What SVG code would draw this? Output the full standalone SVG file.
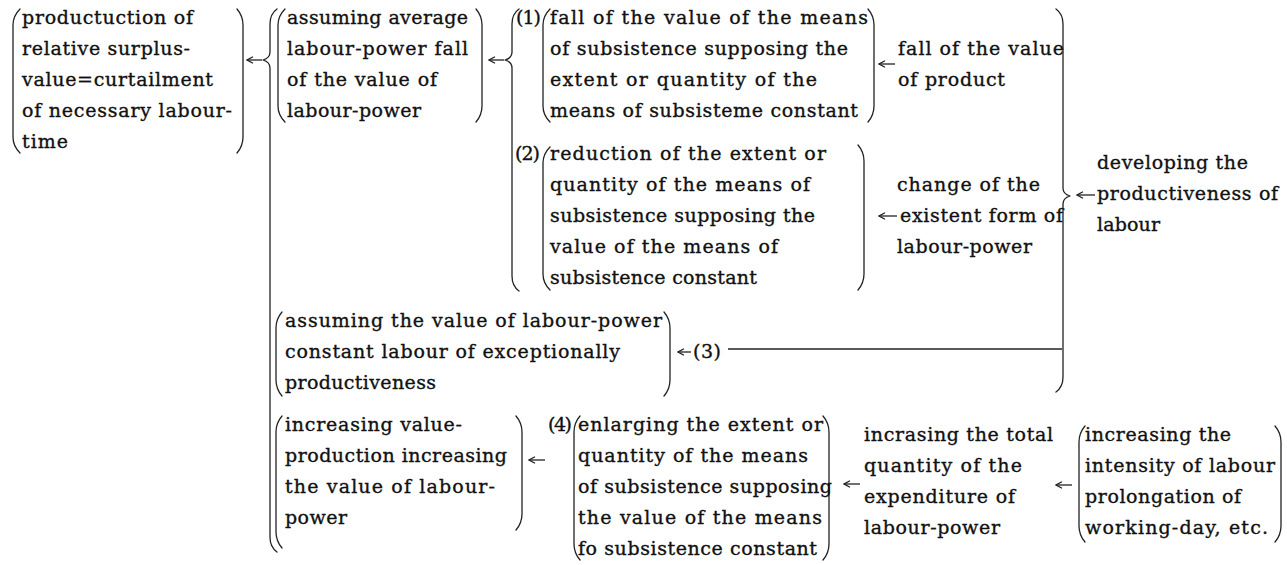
<svg xmlns="http://www.w3.org/2000/svg" width="1287" height="565" viewBox="0 0 1287 565">
<defs>
<style>
.t{font-family:"DejaVu Serif","Liberation Serif",serif;font-size:19px;fill:#111;stroke:#111;stroke-width:0.35;}
.b{fill:none;stroke:#222;stroke-width:1.3;stroke-linecap:round;stroke-linejoin:round;}
.a{fill:none;stroke:#222;stroke-width:1.3;}
</style>
<marker id="ah" viewBox="0 0 10 10" refX="9" refY="5" markerWidth="10" markerHeight="10" markerUnits="userSpaceOnUse" orient="auto">
<path d="M3,1.8 L9,5 L3,8.2" fill="none" stroke="#222" stroke-width="1.3"/>
</marker>
</defs>
<rect width="1287" height="565" fill="#fff"/>

<g id="n1">
<path class="b" d="M20,9 Q13,16 13,25 L13,137 Q13,146 20,153"/>
<path class="b" d="M237,9 Q243,16 243,25 L243,137 Q243,146 237,153"/>
<text class="t" x="22" y="24" textLength="171">productuction of</text>
<text class="t" x="22" y="55" textLength="168">relative surplus-</text>
<text class="t" x="22" y="86" textLength="191">value=curtailment</text>
<text class="t" x="22" y="117" textLength="210">of necessary labour-</text>
<text class="t" x="22" y="148" textLength="46">time</text>
</g>

<g id="n2">
<path class="b" d="M285,9 Q278,16 278,25 L278,106 Q278,115 285,122"/>
<path class="b" d="M476,9 Q482,16 482,25 L482,106 Q482,115 476,122"/>
<text class="t" x="287" y="24" textLength="181">assuming average</text>
<text class="t" x="287" y="55" textLength="181">labour-power fall</text>
<text class="t" x="287" y="86" textLength="150">of the value of</text>
<text class="t" x="287" y="117" textLength="134">labour-power</text>
</g>

<g id="n3">
<text class="t" x="516" y="24" textLength="25">(1)</text>
<path class="b" d="M550,9 Q543,16 543,25 L543,106 Q543,115 550,122"/>
<path class="b" d="M868,9 Q874,16 874,25 L874,106 Q874,115 868,122"/>
<text class="t" x="550" y="24" textLength="318">fall of the value of the means</text>
<text class="t" x="550" y="55" textLength="298">of subsistence supposing the</text>
<text class="t" x="550" y="86" textLength="267">extent or quantity of the</text>
<text class="t" x="550" y="117" textLength="308">means of subsisteme constant</text>
</g>

<g id="n4">
<text class="t" x="898" y="55" textLength="166">fall of the value</text>
<text class="t" x="898" y="86" textLength="107">of product</text>
</g>

<g id="n5">
<text class="t" x="515" y="160" textLength="25">(2)</text>
<path class="b" d="M550,147 Q543,154 543,163 L543,274 Q543,283 550,290"/>
<path class="b" d="M858,145 Q864,152 864,161 L864,274 Q864,283 858,290"/>
<text class="t" x="550" y="160" textLength="276">reduction of the extent or</text>
<text class="t" x="550" y="191" textLength="260">quantity of the means of</text>
<text class="t" x="550" y="222" textLength="265">subsistence supposing the</text>
<text class="t" x="550" y="253" textLength="228">value of the means of</text>
<text class="t" x="550" y="284" textLength="207">subsistence constant</text>
</g>

<g id="n6">
<text class="t" x="897" y="191" textLength="143">change of the</text>
<text class="t" x="900" y="222" textLength="163">existent form of</text>
<text class="t" x="897" y="253" textLength="135">labour-power</text>
</g>

<g id="n7">
<text class="t" x="1097" y="169" textLength="151">developing the</text>
<text class="t" x="1097" y="200" textLength="181">productiveness of</text>
<text class="t" x="1097" y="231" textLength="63">labour</text>
</g>

<g id="n8">
<path class="b" d="M282,312 Q276,319 276,328 L276,380 Q276,389 282,396"/>
<path class="b" d="M664,312 Q670,319 670,328 L670,380 Q670,389 664,396"/>
<text class="t" x="285" y="327" textLength="377">assuming the value of labour-power</text>
<text class="t" x="285" y="358" textLength="335">constant labour of exceptionally</text>
<text class="t" x="285" y="389" textLength="151">productiveness</text>
</g>

<g id="n9">
<path class="b" d="M282,416 Q276,423 276,432 L276,532 Q276,541 282,548"/>
<path class="b" d="M516,416 Q522,423 522,432 L522,514 Q522,523 516,530"/>
<text class="t" x="285" y="431" textLength="177">increasing value-</text>
<text class="t" x="285" y="462" textLength="222">production increasing</text>
<text class="t" x="285" y="493" textLength="210">the value of labour-</text>
<text class="t" x="285" y="524" textLength="62">power</text>
</g>

<g id="n10">
<text class="t" x="548" y="431" textLength="24">(4)</text>
<path class="b" d="M580,416 Q574,423 574,432 L574,544 Q574,553 580,560"/>
<path class="b" d="M823,416 Q829,423 829,432 L829,544 Q829,553 823,560"/>
<text class="t" x="578" y="431" textLength="245">enlarging the extent or</text>
<text class="t" x="578" y="462" textLength="230">quantity of the means</text>
<text class="t" x="578" y="493" textLength="254">of subsistence supposing</text>
<text class="t" x="578" y="524" textLength="244">the value of the means</text>
<text class="t" x="578" y="555" textLength="239">fo subsistence constant</text>
</g>

<g id="n11">
<text class="t" x="864" y="441" textLength="189">incrasing the total</text>
<text class="t" x="864" y="472" textLength="158">quantity of the</text>
<text class="t" x="864" y="503" textLength="151">expenditure of</text>
<text class="t" x="864" y="534" textLength="136">labour-power</text>
</g>

<g id="n12">
<path class="b" d="M1085,426 Q1079,433 1079,442 L1079,526 Q1079,535 1085,542"/>
<path class="b" d="M1275,426 Q1281,433 1281,442 L1281,526 Q1281,535 1275,542"/>
<text class="t" x="1085" y="441" textLength="146">increasing the</text>
<text class="t" x="1085" y="472" textLength="190">intensity of labour</text>
<text class="t" x="1085" y="503" textLength="156">prolongation of</text>
<text class="t" x="1085" y="534" textLength="183">working-day, etc.</text>
</g>

<g id="connectors">
<path class="b" d="M277,9 Q270,14 270,24 L270,52 Q270,58 263,60 Q270,62 270,68 L270,537 Q270,547 277,552"/>
<path class="b" d="M519,9 Q512,14 512,24 L512,52 Q512,58 505,60 Q512,62 512,68 L512,276 Q512,286 519,291"/>
<path class="b" d="M1056,9 Q1063,14 1063,24 L1063,188 Q1063,194 1070,196 Q1063,198 1063,204 L1063,377 Q1063,387 1056,392"/>
<line class="a" x1="262" y1="60" x2="247" y2="60" marker-end="url(#ah)"/>
<line class="a" x1="504" y1="60" x2="489" y2="60" marker-end="url(#ah)"/>
<line class="a" x1="895" y1="64" x2="879" y2="64" marker-end="url(#ah)"/>
<line class="a" x1="897" y1="216" x2="879" y2="216" marker-end="url(#ah)"/>
<line class="a" x1="1095" y1="195" x2="1077" y2="195" marker-end="url(#ah)"/>
<line class="a" x1="1062" y1="349" x2="728" y2="349"/>
<line class="a" x1="691" y1="352" x2="678" y2="352" marker-end="url(#ah)"/>
<text class="t" x="693" y="358" textLength="28">(3)</text>
<line class="a" x1="545" y1="460" x2="529" y2="460" marker-end="url(#ah)"/>
<line class="a" x1="860" y1="484" x2="844" y2="484" marker-end="url(#ah)"/>
<line class="a" x1="1072" y1="485" x2="1056" y2="485" marker-end="url(#ah)"/>
</g>
</svg>
